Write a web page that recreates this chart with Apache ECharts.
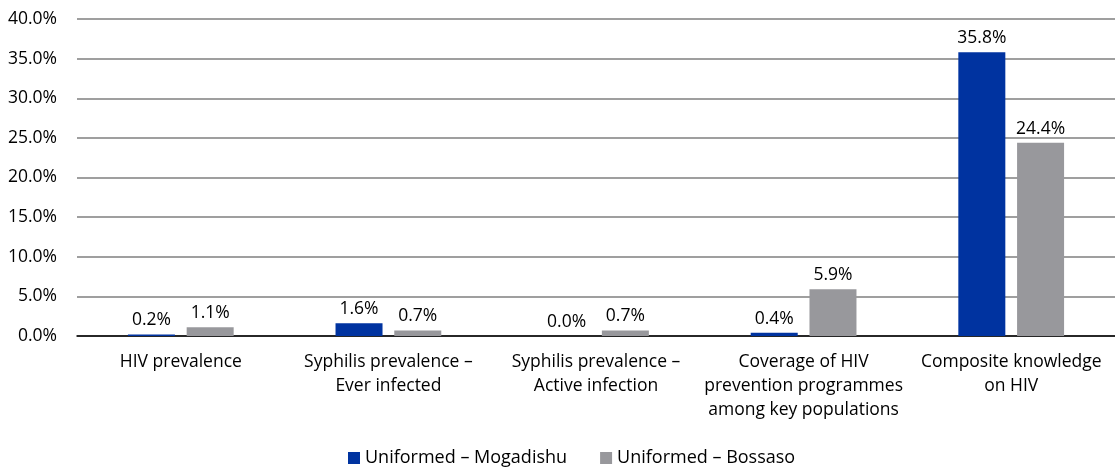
<!DOCTYPE html>
<html>
<head>
<meta charset="utf-8">
<script src="https://cdn.jsdelivr.net/npm/echarts@6/dist/echarts.min.js"></script>
<style>
  html, body { margin: 0; padding: 0; background: #fff; }
  #main { width: 1115px; height: 470px; }
</style>
</head>
<body>
<div id="main"></div>
<script>
var categories = [
    'HIV prevalence',
    'Syphilis prevalence –\nEver infected',
    'Syphilis prevalence –\nActive infection',
    'Coverage of HIV\nprevention programmes\namong key populations',
    'Composite knowledge\non HIV'
];
var mogadishu = [0.2, 1.6, 0.0, 0.4, 35.8];
var bossaso = [1.1, 0.7, 0.7, 5.9, 24.4];
var yTicks = [0, 5, 10, 15, 20, 25, 30, 35, 40];

var font = 'Open Sans';
var chart = echarts.init(document.getElementById('main'));

var labelOpt = {
    show: true,
    position: 'top',
    distance: 5,
    color: '#000',
    fontFamily: font,
    fontSize: 17.5,
    formatter: function (p) { return p.value.toFixed(1) + '%'; }
};

chart.setOption({
    animation: false,
    textStyle: { fontFamily: font },
    legend: {
        bottom: -2,
        left: 343,
        itemWidth: 12,
        itemHeight: 12,
        itemGap: 33,
        icon: 'rect',
        textStyle: { fontSize: 18, color: '#000', fontFamily: font },
        data: ['Uniformed – Mogadishu', 'Uniformed – Bossaso']
    },
    grid: { left: 77, right: 0, top: 19, bottom: 134, containLabel: false },
    xAxis: {
        type: 'category',
        data: categories,
        axisTick: { show: false },
        axisLine: { lineStyle: { color: '#000', width: 1.5 } },
        axisLabel: {
            color: '#000',
            fontSize: 17.5,
            lineHeight: 24,
            margin: 14,
            interval: 0,
            fontFamily: font
        }
    },
    yAxis: {
        type: 'value',
        min: yTicks[0],
        max: yTicks[yTicks.length - 1],
        interval: 5,
        axisLine: { show: false },
        axisTick: { show: false },
        splitLine: { lineStyle: { color: '#7f7f7f', width: 1.5 } },
        axisLabel: {
            color: '#000',
            fontSize: 17.5,
            margin: 20,
            fontFamily: font,
            formatter: function (v) { return v.toFixed(1) + '%'; }
        }
    },
    series: [
        {
            name: 'Uniformed – Mogadishu',
            type: 'bar',
            data: mogadishu,
            barWidth: 47,
            barGap: '25%',
            itemStyle: { color: '#0033a0' },
            label: labelOpt
        },
        {
            name: 'Uniformed – Bossaso',
            type: 'bar',
            data: bossaso,
            barWidth: 47,
            itemStyle: { color: '#98989c' },
            label: labelOpt
        }
    ]
});
</script>
</body>
</html>
